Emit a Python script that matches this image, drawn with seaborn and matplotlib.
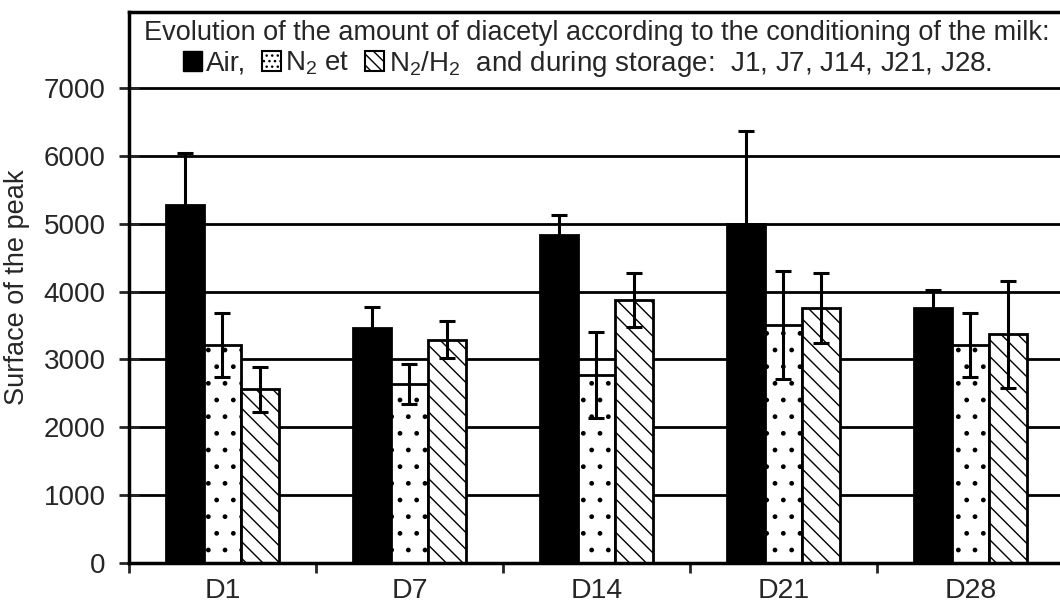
import matplotlib
matplotlib.use("Agg")
import matplotlib.pyplot as plt
import seaborn as sns
import pandas as pd
from matplotlib.patches import Patch

# values
days = ["D1", "D7", "D14", "D21", "D28"]
gases = ["Air", "N2", "N2/H2"]
air = [5270, 3460, 4830, 4990, 3760]
air_sd = [770, 310, 300, 1380, 265]
n2 = [3210, 2640, 2770, 3510, 3210]
n2_sd = [470, 300, 640, 800, 470]
n2h2 = [2560, 3290, 3880, 3760, 3370]
n2h2_sd = [330, 270, 400, 515, 790]

df = pd.DataFrame({
    "day": days * 3,
    "gas": [g for g in gases for _ in days],
    "value": air + n2 + n2h2,
})

sns.set_style("white")
plt.rcParams["font.family"] = ["Liberation Sans", "DejaVu Sans"]
plt.rcParams["hatch.linewidth"] = 1.0
plt.rcParams["mathtext.default"] = "regular"

fig = plt.figure(figsize=(10.6, 6.07), dpi=100)
ax = fig.add_axes([0.1217, 0.0725, 0.882, 0.9077])

sns.barplot(data=df, x="day", y="value", hue="gas", order=days, hue_order=gases,
            palette=["black", "white", "white"], edgecolor="black", linewidth=2,
            width=0.6, errorbar=None, legend=False, ax=ax)

hatches = ["", ".", "\\\\"]
for cont, h in zip(ax.containers, hatches):
    for bar in cont:
        bar.set_hatch(h)

for cont, sd in zip(ax.containers, [air_sd, n2_sd, n2h2_sd]):
    xs = [b.get_x() + b.get_width() / 2 for b in cont]
    ys = [b.get_height() for b in cont]
    ax.errorbar(xs, ys, yerr=sd, fmt="none", ecolor="black", elinewidth=2.2,
                capsize=5.5, capthick=2.2, zorder=3)

ax.set_xlim(-0.5, 4.5)
ax.set_ylim(0, 8120)
ax.set_yticks(range(0, 8000, 1000))
ax.yaxis.grid(True, color="black", linewidth=2)
ax.set_axisbelow(True)

for side in ["left", "top", "bottom", "right"]:
    ax.spines[side].set_visible(True)
    ax.spines[side].set_color("black")
    ax.spines[side].set_linewidth(2.5)

ax.tick_params(axis="y", direction="inout", length=14, width=2, labelsize=20, pad=10, left=True)
ax.tick_params(axis="x", which="major", length=0, labelsize=20.5, pad=11)
ax.set_xticks([i - 0.5 for i in range(6)], minor=True)
ax.tick_params(axis="x", which="minor", direction="out", length=7, width=2, bottom=True)

ax.set_xlabel("")
ax.set_ylabel("Surface of the peak", fontsize=19.5, labelpad=10)

ax.text(0.5, 0.962, "Evolution of the amount of diacetyl according to the conditioning of the milk:",
        ha="center", va="center", fontsize=19.5, transform=ax.transAxes)

handles = [
    Patch(facecolor="black", edgecolor="black"),
    Patch(facecolor="white", edgecolor="black", hatch="...", linewidth=1.5),
    Patch(facecolor="white", edgecolor="black", hatch="\\\\\\", linewidth=1.5),
]
labels = ["Air,", "N$_2$ et", "N$_2$/H$_2$  and during storage:  J1, J7, J14, J21, J28."]
ax.legend(handles, labels, loc="center", bbox_to_anchor=(0.49, 0.906), ncol=3,
          frameon=False, fontsize=20, handlelength=0.7, handleheight=0.7,
          handletextpad=0.15, columnspacing=0.55, borderpad=0, borderaxespad=0)

fig.savefig("out.png", dpi=100)
